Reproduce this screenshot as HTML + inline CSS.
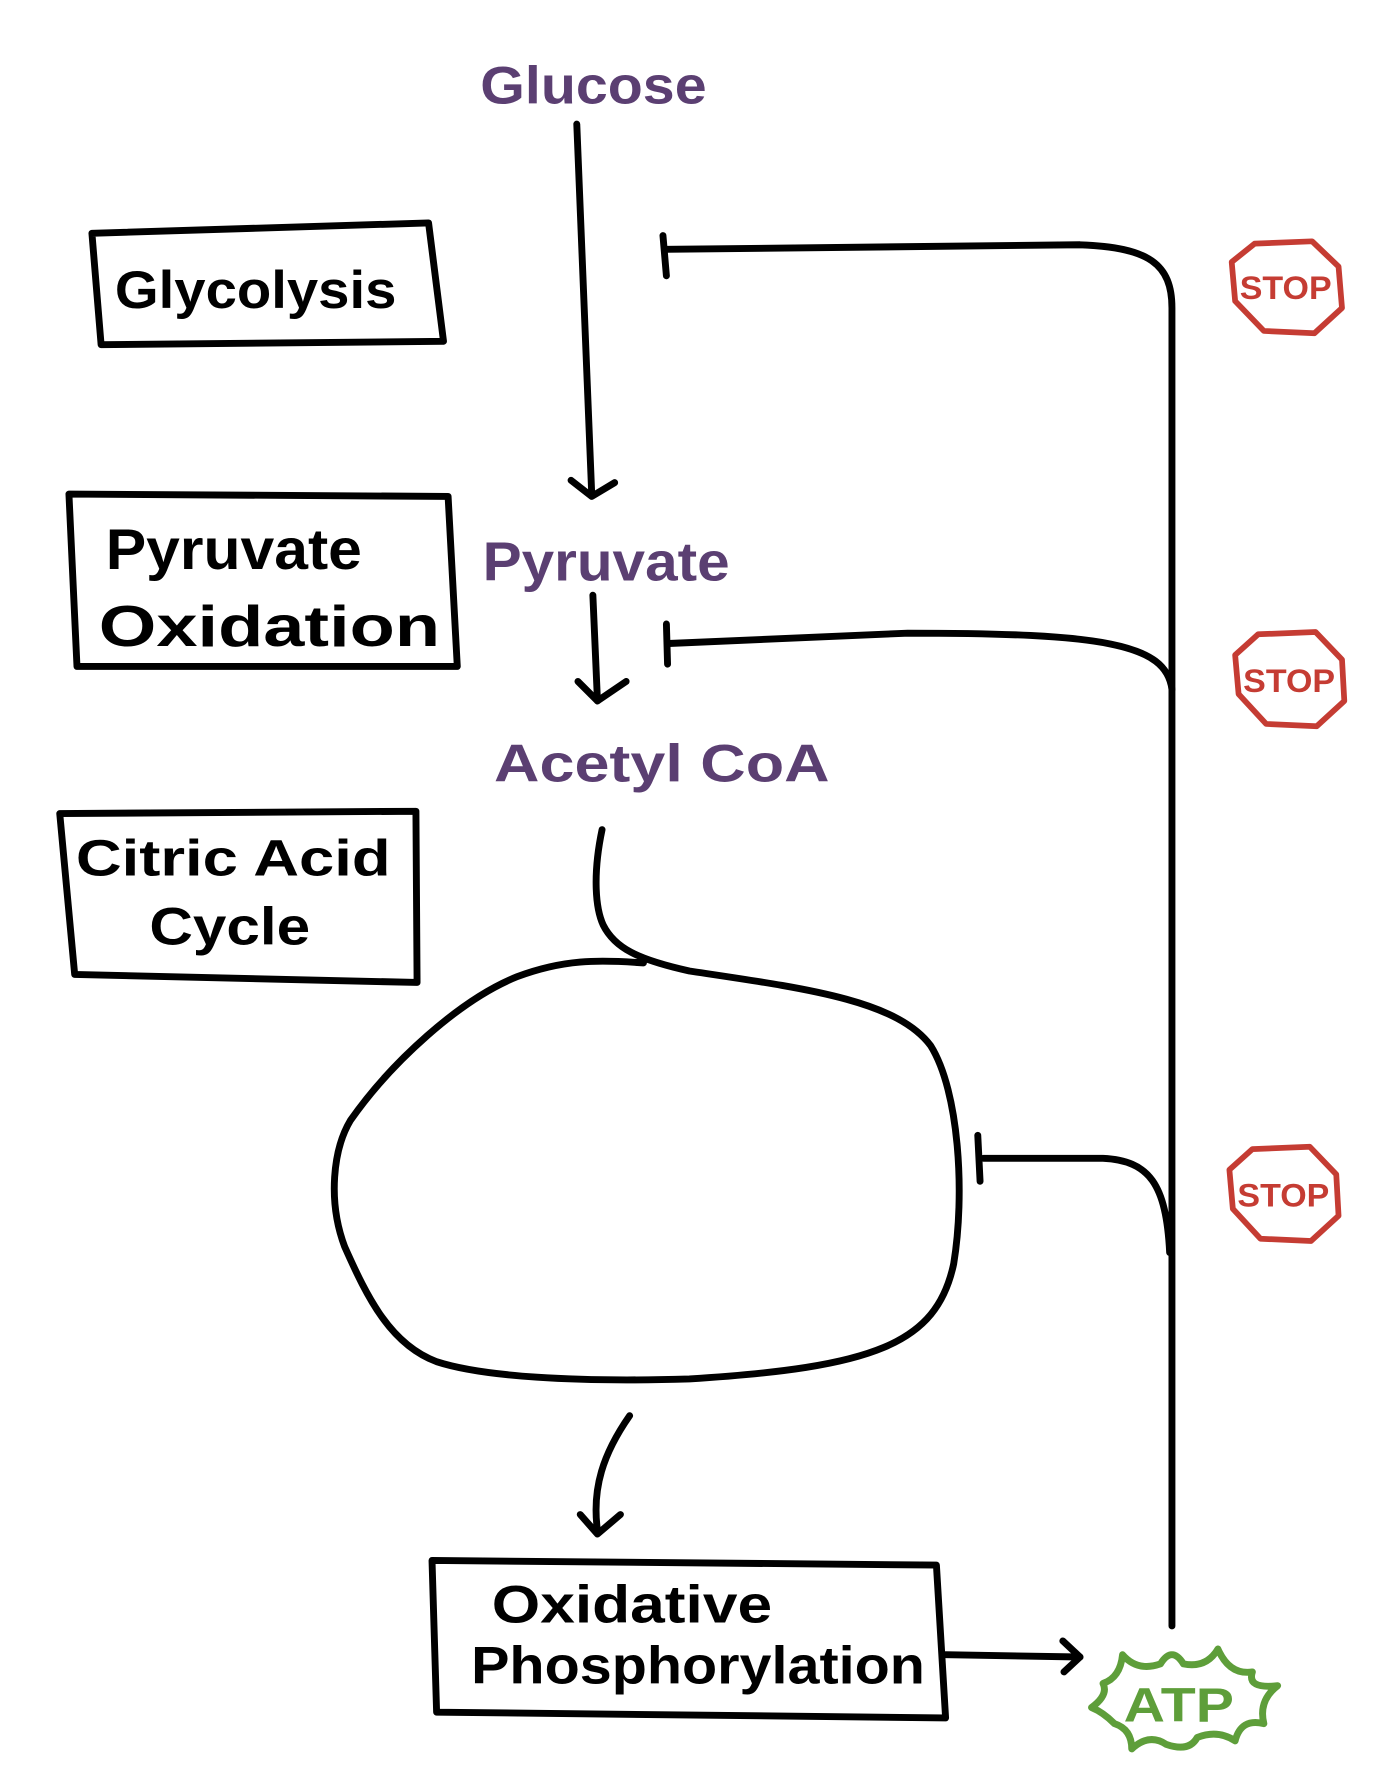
<!DOCTYPE html>
<html><head><meta charset="utf-8"><style>
html,body{margin:0;padding:0;background:#fff;}
svg{display:block;}
text{font-family:"Liberation Sans",sans-serif;font-weight:bold;}
</style></head><body>
<svg width="1396" height="1788" viewBox="0 0 1215 1556" preserveAspectRatio="none" xmlns="http://www.w3.org/2000/svg">
<g fill="none" stroke="#000" stroke-width="6" stroke-linecap="round" stroke-linejoin="round">
<path d="M80,203 L373,194 L386,297 L88,300 Z"/>
<path d="M60,430 L390,432 L398,580 L67,580 Z"/>
<path d="M52,708 L362,706 L363,855 L65,848 Z"/>
<path d="M376,1358 L815,1362 L823,1495 L380,1490 Z"/>
<path d="M502,108 L515,430"/>
<path d="M497,418 L515,432 L535,420"/>
<path d="M516,518 L520,610"/>
<path d="M503,593 L520,610 L545,593"/>
<path d="M1020,1415 L1020,268 C1020,230 1000,215 940,213 L580,217"/>
<path d="M577,205 L580,240"/>
<path d="M1020,600 C1015,560 960,551 790,551 L582,560"/>
<path d="M580,543 L581,578"/>
<path d="M1018,1090 C1015,1030 1000,1010 960,1008 L856,1008"/>
<path d="M851,988 L853,1028"/>
<path d="M524,722 C516,760 518,790 525,805 C535,825 555,835 600,845 C700,860 780,870 810,910 C835,950 840,1040 830,1100 C815,1170 760,1190 600,1200 C500,1203 420,1198 380,1185 C340,1170 320,1130 300,1085 C285,1045 290,1000 305,975 C340,925 400,870 450,850 C490,835 520,835 560,838"/>
<path d="M548,1232 C525,1265 515,1295 520,1332"/>
<path d="M505,1318 L520,1335 L540,1318"/>
<path d="M823,1440 L940,1442"/>
<path d="M925,1428 L940,1442 L926,1455"/>
</g>
<g fill="#000">
<text x="100" y="268" font-size="46" textLength="245" lengthAdjust="spacingAndGlyphs">Glycolysis</text>
<text x="92" y="495" font-size="50" textLength="223" lengthAdjust="spacingAndGlyphs">Pyruvate</text>
<text x="86" y="562" font-size="50" textLength="297" lengthAdjust="spacingAndGlyphs">Oxidation</text>
<text x="66" y="762" font-size="44" textLength="274" lengthAdjust="spacingAndGlyphs">Citric Acid</text>
<text x="130" y="822" font-size="46" textLength="140" lengthAdjust="spacingAndGlyphs">Cycle</text>
<text x="428" y="1412" font-size="46" textLength="244" lengthAdjust="spacingAndGlyphs">Oxidative</text>
<text x="410" y="1465" font-size="46" textLength="395" lengthAdjust="spacingAndGlyphs">Phosphorylation</text>
</g>
<g fill="#5b3f72">
<text x="418" y="90" font-size="46" textLength="197" lengthAdjust="spacingAndGlyphs">Glucose</text>
<text x="420" y="505" font-size="48" textLength="215" lengthAdjust="spacingAndGlyphs">Pyruvate</text>
<text x="430" y="680" font-size="46" textLength="292" lengthAdjust="spacingAndGlyphs">Acetyl  CoA</text>
</g>
<g fill="none" stroke="#c53c33" stroke-width="5" stroke-linejoin="round">
<path d="M1092,212 L1142,210 L1165,232 L1168,268 L1144,290 L1100,288 L1075,262 L1072,228 Z"/>
<path d="M1095,552 L1145,550 L1168,574 L1170,610 L1146,632 L1102,630 L1078,604 L1075,570 Z"/>
<path d="M1090,1000 L1140,998 L1163,1022 L1165,1058 L1141,1080 L1097,1078 L1073,1052 L1070,1018 Z"/>
</g>
<g fill="#c53c33" font-size="28">
<text x="1079" y="260" textLength="80" lengthAdjust="spacingAndGlyphs">STOP</text>
<text x="1082" y="602" textLength="80" lengthAdjust="spacingAndGlyphs">STOP</text>
<text x="1077" y="1050" textLength="80" lengthAdjust="spacingAndGlyphs">STOP</text>
</g>
<path fill="none" stroke="#5e9e3a" stroke-width="6" stroke-linejoin="round" d="M977,1440 Q990,1455 1010,1448 Q1020,1432 1030,1448 Q1050,1452 1060,1435 Q1070,1458 1090,1455 Q1085,1470 1112,1467 Q1095,1480 1100,1500 Q1080,1495 1075,1515 Q1060,1505 1042,1512 Q1035,1525 1015,1518 Q1000,1508 985,1522 Q985,1505 970,1500 Q960,1490 950,1486 Q965,1475 960,1465 Q975,1460 977,1440 Z"/>
<text x="978" y="1498" font-size="42" fill="#5e9e3a" textLength="96" lengthAdjust="spacingAndGlyphs">ATP</text>
</svg>
</body></html>
